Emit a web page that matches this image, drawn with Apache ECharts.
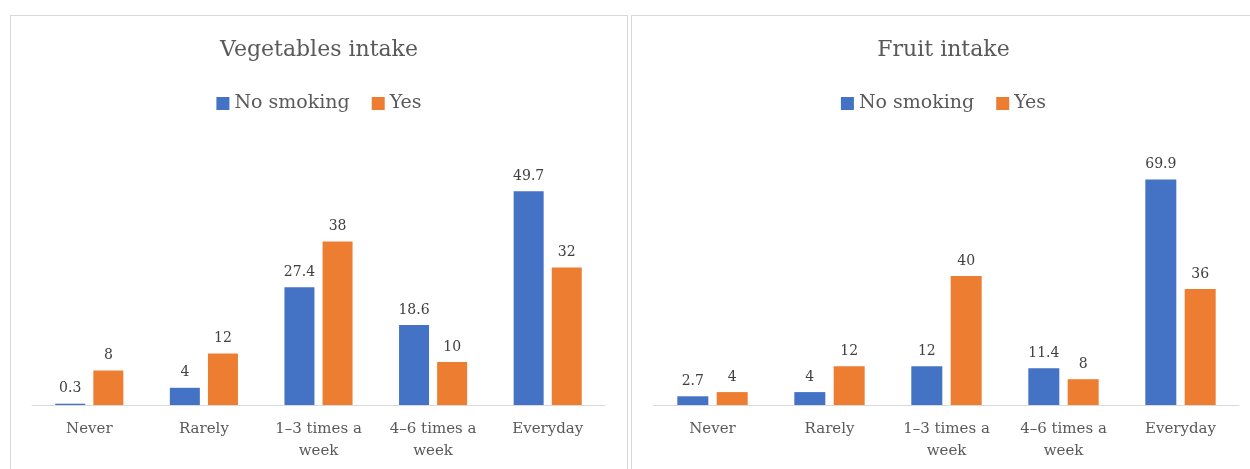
<!DOCTYPE html>
<html>
<head>
<meta charset="utf-8">
<script src="https://cdn.jsdelivr.net/npm/echarts@6/dist/echarts.min.js"></script>
<style>
  html, body { margin: 0; padding: 0; background: #ffffff; width: 1250px; height: 469px; overflow: hidden; }
  .panel { position: absolute; box-sizing: border-box; border: 1px solid #d9d9d9; background: #fff; }
  #left { left: 10px; top: 15px; width: 618px; height: 470px; }
  #right { left: 631px; top: 15px; width: 625px; height: 470px; }
</style>
</head>
<body>
<div id="left" class="panel"></div>
<div id="right" class="panel"></div>
<script>
const categories = ['Never', 'Rarely', '1–3 times a\nweek', '4–6 times a\nweek', 'Everyday'];
const seriesNames = ['No smoking', 'Yes'];
const vegNoSmoking = [0.3, 4, 27.4, 18.6, 49.7];
const vegYes = [8, 12, 38, 10, 32];
const fruitNoSmoking = [2.7, 4, 12, 11.4, 69.9];
const fruitYes = [4, 12, 40, 8, 36];
const titles = ['Vegetables intake', 'Fruit intake'];

const FONT = 'DejaVu Serif';
const colors = ['#4472C4', '#ED7D31'];

function makeOption(title, a, b, yMax, gridLeft, gridWidth, barWidth) {
  return {
    animation: false,
    color: colors,
    title: {
      text: title, left: 'center', top: 18,
      textStyle: { fontFamily: FONT, fontSize: 22, fontWeight: 'normal', color: '#595959' }
    },
    legend: {
      data: seriesNames, top: 73, left: 'center',
      icon: 'rect', itemWidth: 13, itemHeight: 13, itemGap: 22,
      textStyle: { fontFamily: FONT, fontSize: 19, color: '#595959' }
    },
    grid: { left: gridLeft, width: gridWidth, top: 131, height: 258 },
    xAxis: {
      type: 'category', data: categories,
      axisLine: { lineStyle: { color: '#d9d9d9', width: 1 } },
      axisTick: { show: false },
      axisLabel: { interval: 0, fontFamily: FONT, fontSize: 15, color: '#595959', lineHeight: 22, margin: 13 }
    },
    yAxis: { type: 'value', min: 0, max: yMax, show: false, splitLine: { show: false } },
    series: [a, b].map((d, i) => ({
      name: seriesNames[i], type: 'bar', data: d, barWidth: barWidth, barGap: '27%',
      label: { show: true, position: 'top', distance: 8, fontFamily: FONT, fontSize: 14, color: '#404040' }
    }))
  };
}

const c1 = echarts.init(document.getElementById('left'), null, { renderer: 'canvas' });
c1.setOption(makeOption(titles[0], vegNoSmoking, vegYes, 60, 21, 573, 30));
const c2 = echarts.init(document.getElementById('right'), null, { renderer: 'canvas' });
c2.setOption(makeOption(titles[1], fruitNoSmoking, fruitYes, 80, 22, 585, 31));
</script>
</body>
</html>
